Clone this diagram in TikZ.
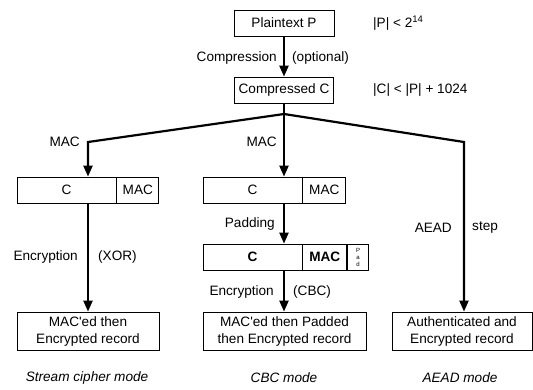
\documentclass[tikz,border=0pt]{standalone}
\usepackage{fontspec}
\setmainfont{Liberation Sans}
\usetikzlibrary{arrows.meta,positioning}

\begin{document}
\begin{tikzpicture}[
    x=1pt, y=-1pt,
    every node/.style={font=\fontsize{13.6}{17}\selectfont, inner sep=0pt},
    cell/.style={draw, line width=0.8pt, minimum height=26pt},
    record/.style={draw, line width=0.8pt, align=center, minimum height=38pt},
    flow/.style={line width=2.2pt, -{Triangle[length=11pt,width=9pt]}},
    link/.style={line width=2.2pt},
    mode/.style={font=\fontsize{13.6}{17}\selectfont\itshape},
]
\useasboundingbox (0,0) rectangle (533,389);

% plaintext and compression
\node[cell, minimum width=100pt] (plain) at (284,23) {Plaintext P};
\node[cell, minimum width=99pt] (comp) at (284,90) {Compressed C};
\node[anchor=west] (plen) at (373,23) {|P| < 2\textsuperscript{14}};
\node[anchor=west] (clen) at (373,90) {|C| < |P| + 1024};
\draw[flow] (plain) -- (comp);
\node[anchor=east] (compr) at (277,58) {Compression};
\node[anchor=west] (opt) at (292,58) {(optional)};

\coordinate (split) at (284,114);
\coordinate (lturn) at (88,142);
\coordinate (rturn) at (464,142);
\draw[link] (comp) -- (split);

% stream cipher
\node[cell, minimum width=99pt] (sc) at (66.5,190) {C};
\node[cell, minimum width=42pt, right=0pt of sc] (smac) {MAC};
\node[record, minimum width=142pt] (srec) at (88,331) {MAC\textquotesingle ed then\\Encrypted record};
\draw[flow] (split) -- (lturn) -- (lturn |- sc.north);
\draw[flow] (srec.north |- sc.south) -- (srec.north);
\node[anchor=east] (smaclbl) at (80,142) {MAC};
\node[anchor=east] (senc) at (78,257) {Encryption};
\node[anchor=west] (sxor) at (98,257) {(XOR)};

% cbc
\node[cell, minimum width=99pt] (cc) at (252.5,190) {C};
\node[cell, minimum width=43pt, right=0pt of cc] (cmac) {MAC};
\node[cell, minimum width=99pt] (pc) at (252.5,257) {\bfseries C};
\node[cell, minimum width=44pt, right=0pt of pc] (pmac) {\bfseries MAC};
\node[cell, minimum width=21pt, right=0pt of pmac, align=center, font=\fontsize{6}{7}\selectfont] (ppad) {P\\a\\d};
\node[record, minimum width=163pt] (crec) at (284.5,331) {MAC\textquotesingle ed then Padded\\then Encrypted record};
\draw[flow] (split) -- (split |- cc.north);
\draw[flow] (split |- cc.south) -- (split |- pc.north);
\draw[flow] (split |- pc.south) -- (split |- crec.north);
\node[anchor=east] (cmaclbl) at (277,142) {MAC};
\node[anchor=east] (cpadlbl) at (275,224) {Padding};
\node[anchor=east] (cenc) at (274,292) {Encryption};
\node[anchor=west] (ccbc) at (293,292) {(CBC)};

% aead
\node[record, minimum width=140pt] (arec) at (462,331) {Authenticated and\\Encrypted record};
\draw[flow] (split) -- (rturn) -- (rturn |- arec.north);
\node[anchor=east] (aaead) at (452,228) {AEAD};
\node[anchor=west] (astep) at (472,228) {step};

% modes
\node[mode] (smode) at (87,378) {Stream cipher mode};
\node[mode] (cmode) at (284,378) {CBC mode};
\node[mode] (amode) at (460,378) {AEAD mode};
\end{tikzpicture}
\end{document}
